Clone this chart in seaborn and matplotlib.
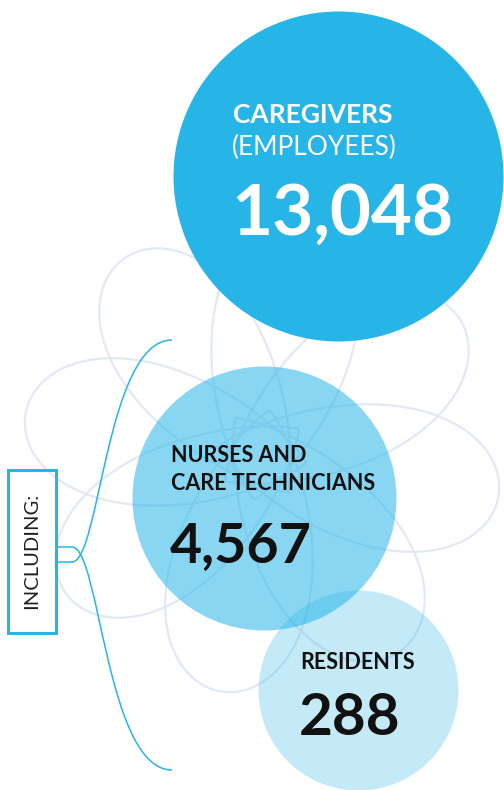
import numpy as np
import pandas as pd
import matplotlib
matplotlib.use("Agg")
import matplotlib.pyplot as plt
from matplotlib.path import Path
from matplotlib.patches import PathPatch, Rectangle
import seaborn as sns

# ---- data ----
labels_bold = ["CAREGIVERS", "NURSES AND\nCARE TECHNICIANS", "RESIDENTS"]
labels_sub = ["(EMPLOYEES)", "", ""]
values = [13048, 4567, 288]
value_text = ["13,048", "4,567", "288"]
including_label = "INCLUDING:"

# ---- layout (pixel space) ----
W, H = 504, 790
cx = [338, 264, 358]
cy = [176, 498, 690]
radius = [165, 132, 100]
alphas = [1.0, 0.55, 0.27]
BLUE = "#27B5E8"

sns.set_theme(style="white")
plt.rcParams['font.family'] = ['Lato', 'DejaVu Sans']

fig = plt.figure(figsize=(W / 100, H / 100), dpi=100)
ax = fig.add_axes([0, 0, 1, 1])

# ---- background flower (decorative petals) ----
C = np.array([262.0, 455.0])
t = np.linspace(0, 2 * np.pi, 400)
L, Wd, r0 = 285.0, 175.0, 45.0
for ang in np.arange(-90, 270, 45) + 10:
    a = np.deg2rad(ang)
    d = np.array([np.cos(a), np.sin(a)])
    n = np.array([-d[1], d[0]])
    lx = L * (1 - np.cos(t)) / 2
    ly = Wd / 2 * np.sin(t) * ((1 - np.cos(t)) / 2) ** 0.35
    tip = C - r0 * d
    px = tip[0] + lx * d[0] + ly * n[0]
    py = tip[1] + lx * d[1] + ly * n[1]
    ax.plot(px, py, color="#E1E9F5", lw=1.6, zorder=1)

# ---- bubbles ----
scale = 72 / 100  # points per pixel
for i in range(3):
    df = pd.DataFrame({"x": [cx[i]], "y": [cy[i]]})
    sns.scatterplot(data=df, x="x", y="y", s=(2 * radius[i] * scale) ** 2,
                    color=BLUE, alpha=alphas[i], linewidth=0, ax=ax,
                    zorder=3 + i, legend=False)
ax.set_xlim(0, W)
ax.set_ylim(H, 0)
ax.axis("off")

# ---- texts ----
ax.text(233, 123, labels_bold[0], color="white", fontsize=19, fontweight="bold",
        ha="left", va="baseline", zorder=10)
ax.text(232, 155, labels_sub[0], color="white", fontsize=19, fontweight="normal",
        ha="left", va="baseline", zorder=10)
ax.text(231, 235, value_text[0], color="white", fontsize=51, fontweight="bold",
        ha="left", va="baseline", zorder=10)

nl = labels_bold[1].split("\n")
ax.text(171, 462, nl[0], color="#111111", fontsize=15.5, fontweight="bold",
        ha="left", va="baseline", zorder=10)
ax.text(171, 490, nl[1], color="#111111", fontsize=15.5, fontweight="bold",
        ha="left", va="baseline", zorder=10)
ax.text(170, 562, value_text[1], color="#111111", fontsize=40, fontweight="bold",
        ha="left", va="baseline", zorder=10)

ax.text(300, 669, labels_bold[2], color="#111111", fontsize=15.5, fontweight="bold",
        ha="left", va="baseline", zorder=10)
ax.text(299, 735, value_text[2], color="#111111", fontsize=42, fontweight="bold",
        ha="left", va="baseline", zorder=10)

# ---- "INCLUDING:" box and bracket ----
ax.add_patch(Rectangle((8, 470), 48, 163, fill=False, edgecolor=BLUE, lw=2.2, zorder=6))
ax.text(32, 551, including_label, rotation=90, color="#222222", fontsize=14.5,
        fontweight="normal", ha="center", va="center", zorder=10)

up = Path([(56, 562), (72, 562), (100, 562), (106, 340), (172, 340)],
          [Path.MOVETO, Path.LINETO, Path.CURVE4, Path.CURVE4, Path.CURVE4])
down = Path([(56, 547), (72, 547), (100, 547), (106, 770), (172, 770)],
            [Path.MOVETO, Path.LINETO, Path.CURVE4, Path.CURVE4, Path.CURVE4])
for p in (up, down):
    ax.add_patch(PathPatch(p, fill=False, edgecolor=BLUE, lw=1.1, zorder=7))

fig.savefig("out.png", dpi=100)
